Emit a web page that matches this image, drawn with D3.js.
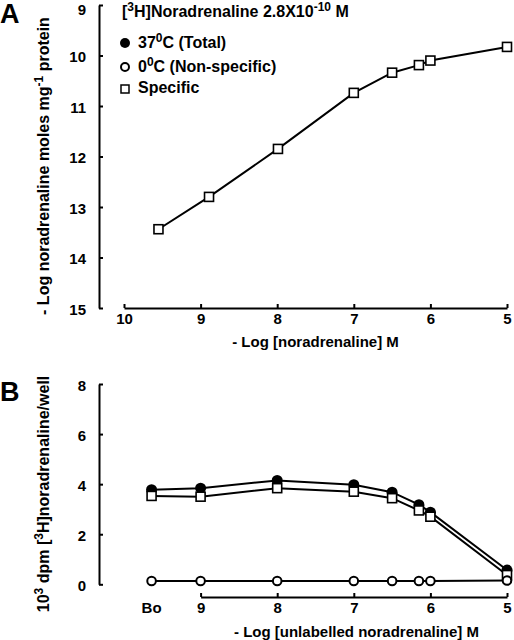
<!DOCTYPE html>
<html><head><meta charset="utf-8">
<script src="https://cdn.jsdelivr.net/npm/d3@7"></script>
<style>
html,body{margin:0;padding:0;background:#fff;}
svg text{font-family:"Liberation Sans",Arial,Helvetica,sans-serif;font-weight:bold;fill:#000;}
</style></head>
<body>
<svg id="chart" width="514" height="640"></svg>
<script>
// ---- Panel A data ----
const aX = [9.55, 8.89, 7.99, 7.0, 6.5, 6.15, 6.0, 5.0];
const aSpecific = [13.44, 12.80, 11.85, 10.74, 10.34, 10.19, 10.10, 9.83];
const aXTicks = [10, 9, 8, 7, 6, 5];
const aYTicks = [9, 10, 11, 12, 13, 14, 15];

// ---- Panel B data ----
const bCats = ["Bo", 9, 8, 7, 6.5, 6.15, 6, 5];
const bTotal = [3.78, 3.84, 4.15, 3.98, 3.68, 3.18, 2.88, 0.57];
const bNonSpecific = [0.13, 0.13, 0.13, 0.13, 0.13, 0.13, 0.13, 0.15];
const bSpecific = [3.53, 3.50, 3.84, 3.70, 3.44, 2.95, 2.70, 0.37];
const bXTicks = [9, 8, 7, 6, 5];
const bYTicks = [0, 2, 4, 6, 8];
const BO_POS = 9.64; // position of "Bo" on the log axis

const svg = d3.select("#chart");
const FS = 15;
const fmt = d3.format("d");

// shared x scale (both panels)
const x = d3.scaleLinear().domain([10, 5]).range([124, 507]);

function styleAxis(a, isY) {
  a.attr("font-size", FS).attr("font-family", '"Liberation Sans",Arial,sans-serif');
  a.selectAll("path,line").attr("stroke", "#000").attr("stroke-width", 2);
  a.selectAll("text").attr("font-size", FS).attr("font-weight", "bold");
  if (isY) a.selectAll("text").attr("dy", "0.43em");
}

// ================= Panel A =================
const yA = d3.scaleLinear().domain([9, 15]).range([5, 308]);
const gA = svg.append("g");

const axA_y = gA.append("g").attr("transform", "translate(99,0)")
  .call(d3.axisLeft(yA).tickValues(aYTicks).tickFormat(fmt).tickSizeInner(-4).tickSizeOuter(0).tickPadding(13));
const axA_x = gA.append("g").attr("transform", "translate(0,308)")
  .call(d3.axisBottom(x).tickValues(aXTicks).tickFormat(fmt).tickSizeInner(-4).tickSizeOuter(0).tickPadding(5));
styleAxis(axA_y, true); styleAxis(axA_x, false);
// keep the top label inside the page
axA_y.selectAll(".tick text").filter(d => d === aYTicks[0]).attr("dy", "0.6em");

const lineA = d3.line().x((d, i) => x(aX[i])).y(d => yA(d));
gA.append("path").datum(aSpecific).attr("d", lineA)
  .attr("fill", "none").attr("stroke", "#000").attr("stroke-width", 2);
const sqA = 9;
gA.selectAll("rect.sq").data(aSpecific).join("rect")
  .attr("x", (d, i) => x(aX[i]) - sqA / 2).attr("y", d => yA(d) - sqA / 2)
  .attr("width", sqA).attr("height", sqA)
  .attr("fill", "#fff").attr("stroke", "#000").attr("stroke-width", 1.6);

// labels
svg.append("text").attr("x", 0).attr("y", 23).attr("font-size", 27).text("A");
const yLabA = svg.append("text").attr("font-size", 16)
  .attr("transform", "translate(49,166) rotate(-90)").attr("text-anchor", "middle");
yLabA.append("tspan").text("- Log noradrenaline moles mg");
yLabA.append("tspan").attr("font-size", 12).attr("dy", -6).text("-1");
yLabA.append("tspan").attr("dy", 6).text(" protein");

svg.append("text").attr("x", 315.5).attr("y", 347).attr("font-size", FS)
  .attr("text-anchor", "middle").text("- Log [noradrenaline] M");

// legend
const leg = svg.append("g");
const t = leg.append("text").attr("x", 122).attr("y", 17).attr("font-size", 16);
t.append("tspan").text("[");
t.append("tspan").attr("font-size", 12).attr("dy", -6).text("3");
t.append("tspan").attr("dy", 6).text("H]Noradrenaline 2.8X10");
t.append("tspan").attr("font-size", 12).attr("dy", -6).text("-10");
t.append("tspan").attr("dy", 6).text(" M");

leg.append("circle").attr("cx", 125).attr("cy", 43).attr("r", 5).attr("fill", "#000");
leg.append("circle").attr("cx", 125).attr("cy", 67).attr("r", 4).attr("fill", "#fff")
  .attr("stroke", "#000").attr("stroke-width", 2);
leg.append("rect").attr("x", 121).attr("y", 85).attr("width", 8).attr("height", 8)
  .attr("fill", "#fff").attr("stroke", "#000").attr("stroke-width", 1.5);

const l1 = leg.append("text").attr("x", 138).attr("y", 48).attr("font-size", 16);
l1.append("tspan").text("37");
l1.append("tspan").attr("font-size", 12).attr("dy", -6).text("0");
l1.append("tspan").attr("dy", 6).text("C (Total)");
const l2 = leg.append("text").attr("x", 138).attr("y", 72).attr("font-size", 16);
l2.append("tspan").text("0");
l2.append("tspan").attr("font-size", 12).attr("dy", -6).text("0");
l2.append("tspan").attr("dy", 6).text("C (Non-specific)");
leg.append("text").attr("x", 138).attr("y", 93).attr("font-size", 16).text("Specific");

// ================= Panel B =================
const yB = d3.scaleLinear().domain([0, 8]).range([584.3, 384]);
const bx = c => x(c === "Bo" ? BO_POS : c);
const gB = svg.append("g");

const axB_y = gB.append("g").attr("transform", "translate(99,0)")
  .call(d3.axisLeft(yB).tickValues(bYTicks).tickFormat(fmt).tickSizeInner(-4).tickSizeOuter(0).tickPadding(13));
const xAxB = d3.scaleLinear().domain([9, 5]).range([x(9), x(5)]);
const axB_x = gB.append("g").attr("transform", "translate(0,597)")
  .call(d3.axisBottom(xAxB).tickValues(bXTicks).tickFormat(fmt).tickSizeInner(-4).tickSizeOuter(0).tickPadding(5));
styleAxis(axB_y, true); styleAxis(axB_x, false);
gB.append("text").attr("x", bx("Bo")).attr("y", 597 + 5).attr("dy", "0.71em")
  .attr("font-size", FS).attr("text-anchor", "middle").text("Bo");

const lineB = d3.line().x((d, i) => bx(bCats[i])).y(d => yB(d));
function drawLine(vals) {
  gB.append("path").datum(vals).attr("d", lineB)
    .attr("fill", "none").attr("stroke", "#000").attr("stroke-width", 2);
}
// total
drawLine(bTotal);
gB.selectAll("circle.tot").data(bTotal).join("circle").attr("class", "tot")
  .attr("cx", (d, i) => bx(bCats[i])).attr("cy", d => yB(d)).attr("r", 5.5).attr("fill", "#000");
// specific
drawLine(bSpecific);
const sqB = 9;
gB.selectAll("rect.spec").data(bSpecific).join("rect").attr("class", "spec")
  .attr("x", (d, i) => bx(bCats[i]) - sqB / 2).attr("y", d => yB(d) - sqB / 2)
  .attr("width", sqB).attr("height", sqB)
  .attr("fill", "#fff").attr("stroke", "#000").attr("stroke-width", 1.6);
// non-specific
drawLine(bNonSpecific);
gB.selectAll("circle.ns").data(bNonSpecific).join("circle").attr("class", "ns")
  .attr("cx", (d, i) => bx(bCats[i])).attr("cy", d => yB(d)).attr("r", 4.3)
  .attr("fill", "#fff").attr("stroke", "#000").attr("stroke-width", 2);

svg.append("text").attr("x", 0).attr("y", 401).attr("font-size", 27).text("B");
const yLabB = svg.append("text").attr("font-size", 16)
  .attr("transform", "translate(49,494) rotate(-90)").attr("text-anchor", "middle");
yLabB.append("tspan").text("10");
yLabB.append("tspan").attr("font-size", 12).attr("dy", -6).text("3");
yLabB.append("tspan").attr("dy", 6).text(" dpm [");
yLabB.append("tspan").attr("font-size", 12).attr("dy", -6).text("3");
yLabB.append("tspan").attr("dy", 6).text("H]noradrenaline/well");

svg.append("text").attr("x", 356.5).attr("y", 637).attr("font-size", FS)
  .attr("text-anchor", "middle").text("- Log [unlabelled noradrenaline] M");
</script>
</body></html>
